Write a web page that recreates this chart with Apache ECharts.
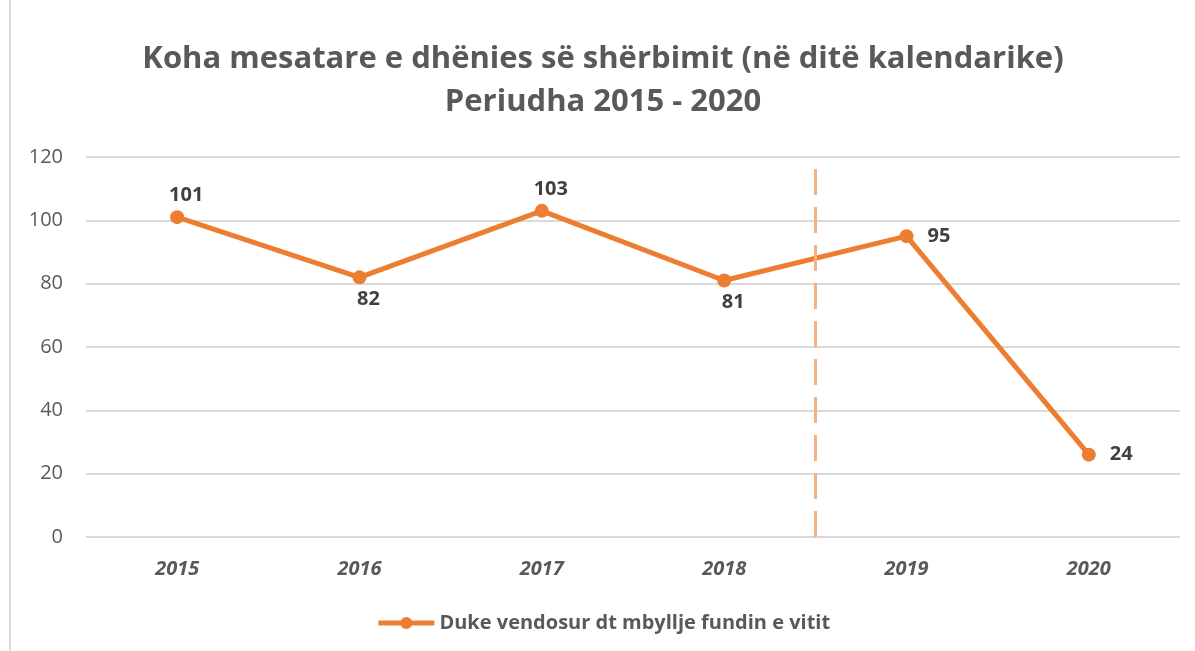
<!DOCTYPE html>
<html>
<head>
<meta charset="utf-8">
<script src="https://cdn.jsdelivr.net/npm/echarts@6/dist/echarts.min.js"></script>
<style>
  html, body { margin: 0; padding: 0; background: #fff; }
  #chart { height: 651px; box-sizing: border-box; border-left: 2px solid #d9d9d9; margin-left: 9px; width: 1186px; }
</style>
</head>
<body>
<div id="chart"></div>
<script>
// data
const years = ['2015', '2016', '2017', '2018', '2019', '2020'];
const values = [101, 82, 103, 81, 95, 26];          // plotted position
const labelTexts = ['101', '82', '103', '81', '95', '24']; // labels as printed
const labelPos = ['top', 'bottom', 'top', 'bottom', 'right', 'right'];
const yTicks = [0, 20, 40, 60, 80, 100, 120];
const splitAt = 3.5;   // dashed separator between 2018 and 2019
const seriesName = 'Duke vendosur dt mbyllje fundin e vitit';

const chart = echarts.init(document.getElementById('chart'));
const font = 'Open Sans';

chart.setOption({
    animation: false,
    title: {
        text: 'Koha mesatare e dhënies së shërbimit (në ditë kalendarike)\nPeriudha 2015 - 2020',
        left: 'center',
        top: 33,
        textStyle: { fontFamily: font, fontSize: 31, fontWeight: 'bold', color: '#595959', lineHeight: 43 }
    },
    legend: {
        bottom: 13,
        left: 'center',
        itemWidth: 56,
        itemHeight: 15,
        itemGap: 6,
        lineStyle: { width: 5 },
        textStyle: { fontFamily: font, fontSize: 20, fontWeight: 'bold', color: '#595959' },
        data: [seriesName]
    },
    grid: { left: 75, right: 15, top: 157, bottom: 114 },
    xAxis: [{
        type: 'category',
        data: years,
        axisLine: { show: false },
        axisTick: { show: false },
        axisLabel: { fontFamily: font, fontSize: 20, fontWeight: 'bold', fontStyle: 'italic', color: '#595959', margin: 22 }
    }, {
        type: 'value',
        show: false,
        min: -0.5,
        max: years.length - 0.5
    }],
    yAxis: {
        type: 'value',
        min: yTicks[0],
        max: yTicks[yTicks.length - 1],
        interval: 20,
        axisLine: { show: false },
        axisTick: { show: false },
        splitLine: { lineStyle: { color: '#d9d9d9', width: 2 } },
        axisLabel: { fontFamily: font, fontSize: 20, color: '#595959', margin: 23 }
    },
    series: [{
        name: seriesName,
        type: 'line',
        data: values.map((v, i) => ({
            value: v,
            label: {
                position: labelPos[i],
                formatter: labelTexts[i],
                distance: labelPos[i] === 'right' ? 14 : 5,
                offset: labelPos[i] === 'right' ? [0, 0] : [9, 0]
            }
        })),
        symbol: 'circle',
        symbolSize: 14,
        lineStyle: { color: '#ED7D31', width: 5 },
        itemStyle: { color: '#ED7D31' },
        label: {
            show: true,
            fontFamily: font,
            fontSize: 20,
            fontWeight: 'bold',
            color: '#404040'
        }
    }, {
        type: 'line',
        xAxisIndex: 1,
        data: [],
        markLine: {
            silent: true,
            symbol: 'none',
            label: { show: false },
            lineStyle: { color: '#F4B183', width: 3, type: [26, 12] },
            data: [{ xAxis: splitAt }]
        }
    }]
});
</script>
</body>
</html>
